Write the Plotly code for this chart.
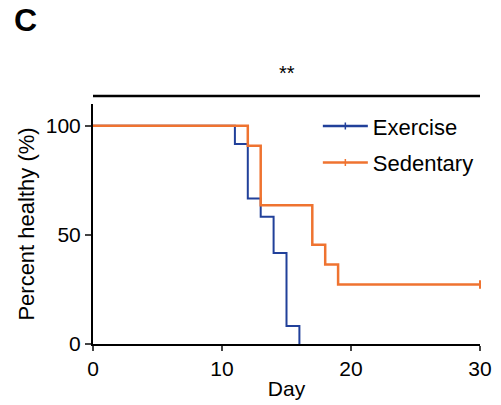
import plotly.graph_objects as go

# Data
exercise_days = [0, 11, 12, 13, 14, 15, 16]
exercise_pct = [100, 91.7, 66.7, 58.3, 41.7, 8.3, 0]
sedentary_days = [0, 12, 13, 17, 18, 19, 30]
sedentary_pct = [100, 90.9, 63.6, 45.5, 36.4, 27.3, 27.3]
sedentary_censor_days = [30]
sedentary_censor_pct = [27.3]

x_ticks = [0, 10, 20, 30]
y_ticks = [0, 50, 100]

BLUE = "#21409a"
ORANGE = "#ef7330"
FONT = "Arial, Liberation Sans, sans-serif"

fig = go.Figure()
fig.add_trace(go.Scatter(x=exercise_days, y=exercise_pct, mode="lines",
                         line=dict(color=BLUE, width=2, shape="hv"),
                         showlegend=False, cliponaxis=False))
fig.add_trace(go.Scatter(x=sedentary_days, y=sedentary_pct, mode="lines",
                         line=dict(color=ORANGE, width=2.5, shape="hv"),
                         showlegend=False, cliponaxis=False))
fig.add_trace(go.Scatter(x=sedentary_censor_days, y=sedentary_censor_pct, mode="markers",
                         marker=dict(symbol="line-ns", size=6, line=dict(color=ORANGE, width=2)),
                         showlegend=False, cliponaxis=False))
# legend entries
fig.add_trace(go.Scatter(x=[None], y=[None], mode="lines+markers", name="Exercise",
                         legendgroup="a",
                         line=dict(color=BLUE, width=2.5),
                         marker=dict(symbol="line-ns", size=5, line=dict(color=BLUE, width=1.5))))
fig.add_trace(go.Scatter(x=[None], y=[None], mode="lines+markers", name="Sedentary",
                         legendgroup="b",
                         line=dict(color=ORANGE, width=2.5),
                         marker=dict(symbol="line-ns", size=5, line=dict(color=ORANGE, width=1.5))))

fig.update_layout(
    width=501, height=405,
    margin=dict(l=93, r=21, t=104, b=61, autoexpand=False),
    paper_bgcolor="white", plot_bgcolor="white",
    font=dict(family=FONT, size=21, color="black"),
    legend=dict(x=0.581, y=0.995, xanchor="left", yanchor="top",
                font=dict(size=22), tracegroupgap=5, traceorder="grouped",
                bgcolor="rgba(0,0,0,0)", itemwidth=45),
    xaxis=dict(range=[0, 30], tickvals=x_ticks, ticks="outside", ticklen=5,
               tickwidth=2, showline=True, linecolor="black", linewidth=2,
               showgrid=False, zeroline=False, tickfont=dict(size=21),
               automargin=False,
               title=dict(text="Day", font=dict(size=21), standoff=2)),
    yaxis=dict(range=[0, 110], tickvals=y_ticks, ticks="outside", ticklen=6,
               tickwidth=2, showline=True, linecolor="black", linewidth=2,
               showgrid=False, zeroline=False, tickfont=dict(size=21),
               automargin=False,
               title=dict(text="Percent healthy (%)", font=dict(size=22), standoff=5)),
)

# significance bar
fig.add_shape(type="line", xref="paper", yref="paper", x0=0, x1=1,
              y0=1.033, y1=1.033, line=dict(color="black", width=2.5))
fig.add_annotation(text="**", xref="paper", yref="paper", x=0.5, y=1.13,
                   showarrow=False, font=dict(size=20, color="black"),
                   xanchor="center", yanchor="middle")
fig.add_annotation(text="<b>C</b>", xref="paper", yref="paper", x=-0.21, y=1.35,
                   showarrow=False, font=dict(size=32, color="black"),
                   xanchor="left", yanchor="middle")

fig.write_html("out.html")
